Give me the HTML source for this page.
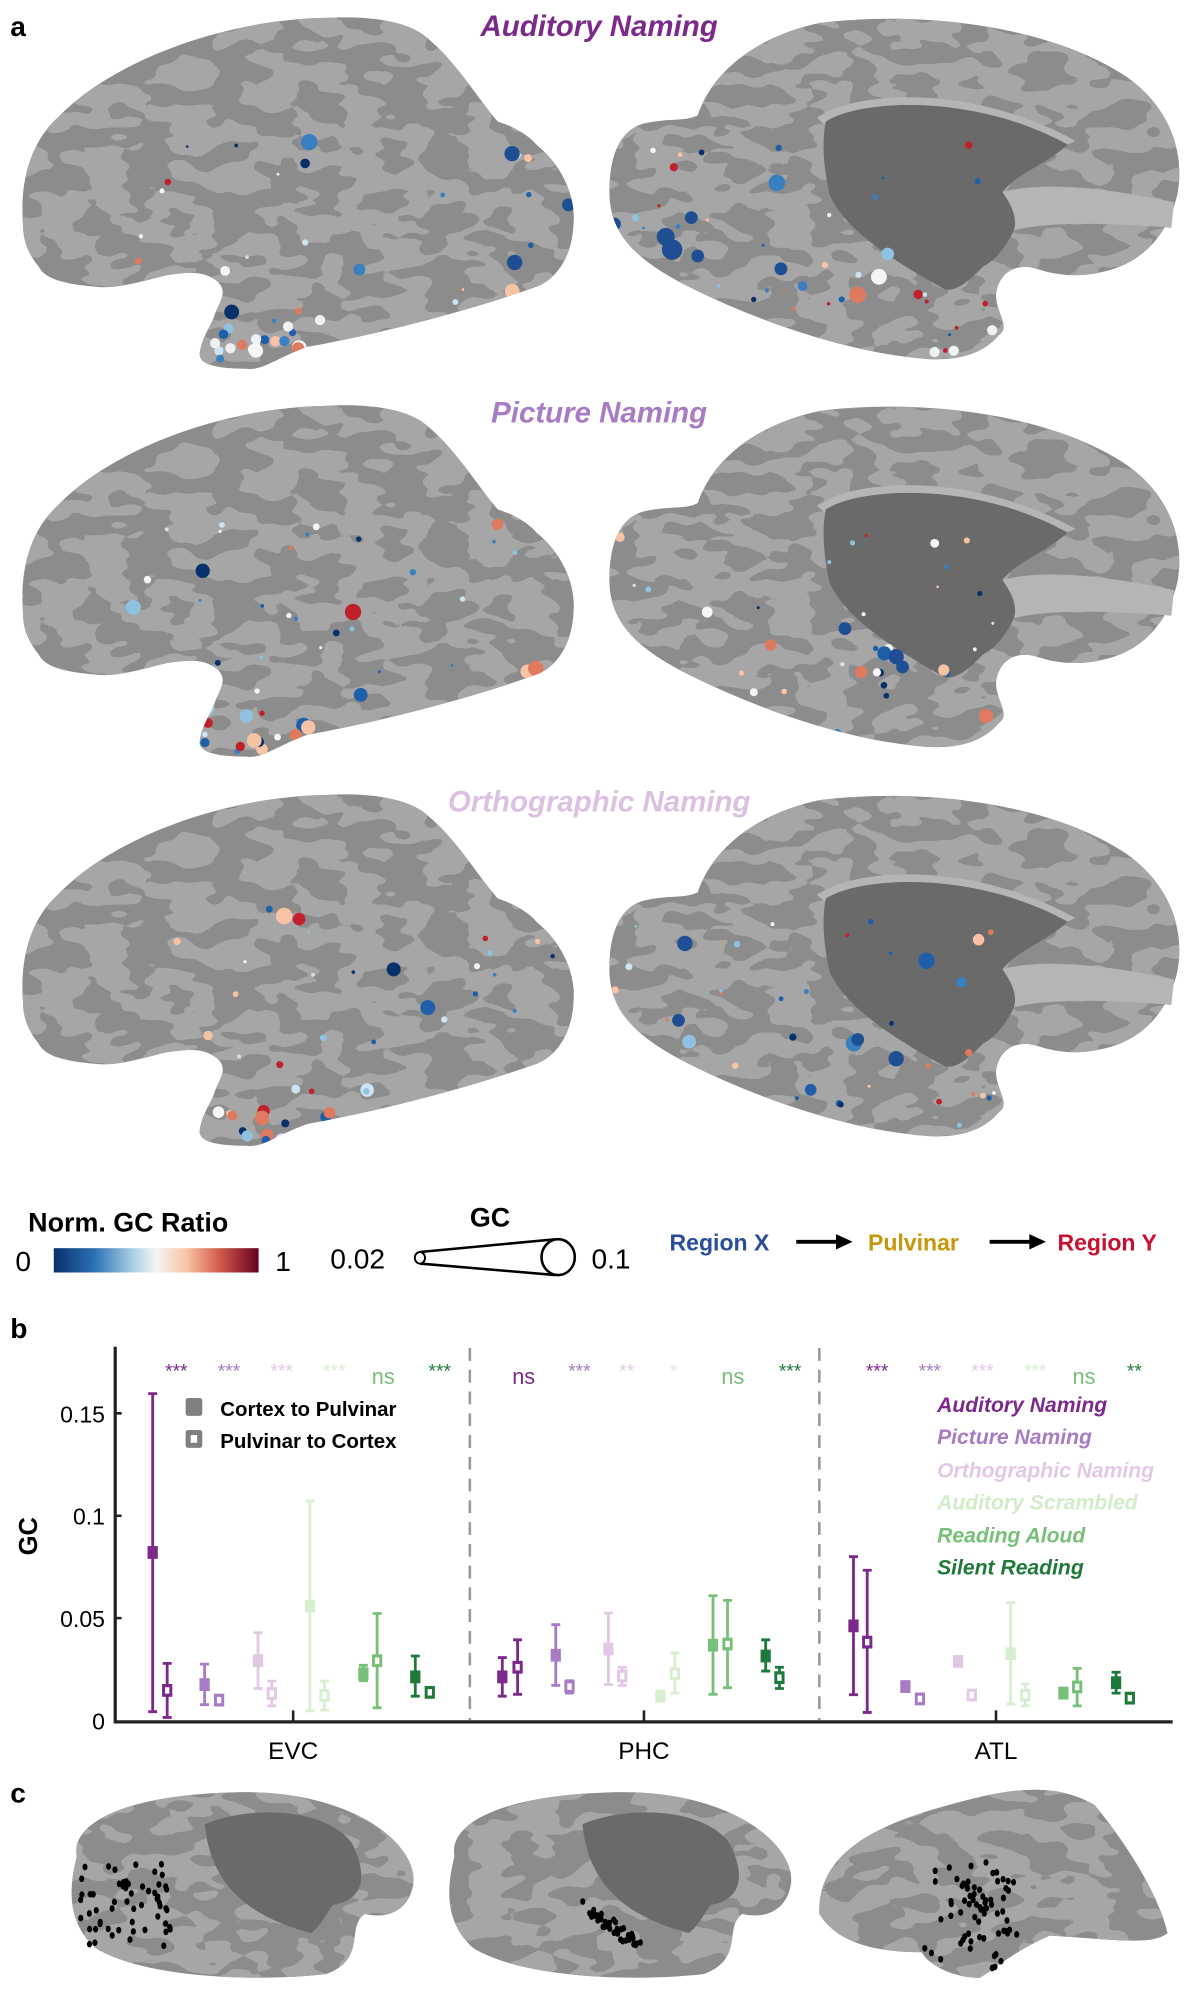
<!DOCTYPE html>
<html><head><meta charset="utf-8"><style>
html,body{margin:0;padding:0;background:#fff}
svg{display:block}
text{font-family:"Liberation Sans",sans-serif}
</style></head><body>
<svg id="s" width="1197" height="1999" viewBox="0 0 935 1561.5" preserveAspectRatio="none" xmlns="http://www.w3.org/2000/svg">
<defs>
<filter id="sulc" x="0" y="0" width="1" height="1" color-interpolation-filters="sRGB">
<feTurbulence type="fractalNoise" baseFrequency="0.03 0.06" numOctaves="2" seed="4" result="n"/>
<feColorMatrix in="n" type="matrix" values="0 0 0 0 0.65 0 0 0 0 0.65 0 0 0 0 0.65 1 0 0 0 0" result="c"/>
<feComponentTransfer in="c" result="d"><feFuncA type="discrete" tableValues="0 0 1 1"/></feComponentTransfer>
<feComposite in="d" in2="SourceGraphic" operator="in"/>
</filter>
<linearGradient id="cb" x1="0" x2="1">
<stop offset="0" stop-color="#08306b"/><stop offset="0.2" stop-color="#2c72b5"/><stop offset="0.38" stop-color="#a7cde3"/><stop offset="0.5" stop-color="#f5f5f5"/><stop offset="0.65" stop-color="#f9c4a4"/><stop offset="0.8" stop-color="#d6604d"/><stop offset="1" stop-color="#67001f"/>
</linearGradient>
<path id="lat" d="M18,176 C15,140 25,110 45,92 C90,45 180,15 254,14 C290,12 315,17 329,26 C355,45 375,80 389,95 C405,100 415,108 419,113 C440,130 450,155 448,175 C447,200 435,218 419,224 C360,245 290,262 240,271 C215,280 205,290 192,288 C170,288 155,285 156,276 C158,262 165,255 168,245 C172,235 178,228 170,220 C160,212 150,212 130,215 C110,220 90,226 75,224 C50,222 35,218 30,208 C22,198 18,188 18,176 Z"/>
<path id="med" d="M476,150 C476,120 485,100 505,96 C525,92 535,95 545,90 C555,60 585,30 640,18 C720,8 820,20 880,60 C915,85 925,120 920,150 C915,175 900,200 870,210 C845,218 825,215 810,210 C795,205 780,212 778,230 C778,245 790,255 780,262 C765,280 740,282 720,280 C660,275 590,250 540,225 C500,205 476,185 476,150 Z"/>
<path id="cav" d="M645,95 C670,78 760,72 834,113 C815,130 795,135 783,150 C790,160 795,170 792,180 C785,195 775,205 768,208 C755,222 745,228 738,226 C700,205 660,180 648,152 C643,130 642,110 645,95 Z"/>
<clipPath id="clipb"><use href="#lat"/><use href="#med"/></clipPath>
<g id="row">
<use href="#lat" fill="#8c8c8c"/><use href="#lat" fill="#000" filter="url(#sulc)"/>
<use href="#med" fill="#8c8c8c"/><use href="#med" fill="#000" filter="url(#sulc)"/>
<path d="M783,150 C820,140 880,150 917,158 L915,178 C880,175 820,172 792,180 Z" fill="#b5b5b5"/>
<path d="M638,92 C670,70 760,66 840,110 L834,113 C760,74 670,80 645,98 Z" fill="#b5b5b5"/>
<use href="#cav" fill="#6a6a6a"/>
</g>
</defs>
<text x="8" y="28" font-size="22" font-weight="bold">a</text>
<text x="468" y="28" font-size="23" font-weight="bold" font-style="italic" fill="#7b2a8b" text-anchor="middle">Auditory Naming</text>
<text x="468" y="330" font-size="23" font-weight="bold" font-style="italic" fill="#a87cc4" text-anchor="middle">Picture Naming</text>
<text x="468" y="634" font-size="23" font-weight="bold" font-style="italic" fill="#dcc0e2" text-anchor="middle">Orthographic Naming</text>
<use href="#row"/>
<use href="#row" transform="translate(0,303)"/>
<use href="#row" transform="translate(0,607)"/>
<g id="d0" clip-path="url(#clipb)"></g>
<g transform="translate(0,303)"><g id="d1" clip-path="url(#clipb)"></g></g>
<g transform="translate(0,607)"><g id="d2" clip-path="url(#clipb)"></g></g>
<!-- legend row -->
<text x="22" y="962" font-size="21" font-weight="bold">Norm. GC Ratio</text>
<text x="12" y="993" font-size="22">0</text>
<rect x="42" y="975" width="160" height="19" fill="url(#cb)"/>
<text x="215" y="993" font-size="22">1</text>
<text x="367" y="958" font-size="21" font-weight="bold">GC</text>
<text x="258" y="991" font-size="22">0.02</text>
<path d="M328,978 L434,968 M328,987 L434,996" stroke="#000" stroke-width="2" fill="none"/>
<ellipse cx="328" cy="982.5" rx="4" ry="4.5" fill="#fff" stroke="#000" stroke-width="1.5"/>
<ellipse cx="436" cy="982" rx="13" ry="14" fill="#fff" stroke="#000" stroke-width="2"/>
<text x="462" y="991" font-size="22">0.1</text>
<text x="523" y="977" font-size="18" font-weight="bold" fill="#2a4e98">Region X</text>
<path d="M622,970 H655" stroke="#000" stroke-width="3"/><path d="M653,964 L666,970 L653,976 Z"/>
<text x="678" y="977" font-size="18" font-weight="bold" fill="#c8960a">Pulvinar</text>
<path d="M773,970 H806" stroke="#000" stroke-width="3"/><path d="M804,964 L817,970 L804,976 Z"/>
<text x="826" y="977" font-size="18" font-weight="bold" fill="#c8102e">Region Y</text>
<!-- panel b -->
<text x="8" y="1045" font-size="22" font-weight="bold">b</text>
<path d="M90,1052 V1345 H916" stroke="#222" stroke-width="2.5" fill="none"/>
<g stroke="#222" stroke-width="2">
<path d="M90,1104 h5 M90,1184 h5 M90,1264 h5 M229,1344 v-8 M503,1344 v-8 M778,1344 v-8"/></g>
<g font-size="18" text-anchor="end">
<text x="82" y="1111">0.15</text><text x="82" y="1191">0.1</text><text x="82" y="1271">0.05</text><text x="82" y="1351">0</text></g>
<text transform="translate(29,1200) rotate(-90)" font-size="20" font-weight="bold" text-anchor="middle">GC</text>
<path d="M367,1053 V1344 M640,1053 V1344" stroke="#999" stroke-width="2" stroke-dasharray="10,7"/>
<g font-size="19" text-anchor="middle"><text x="229" y="1374">EVC</text><text x="503" y="1374">PHC</text><text x="778" y="1374">ATL</text></g>
<rect x="145" y="1092" width="13" height="14" rx="2" fill="#808080"/>
<rect x="145" y="1117" width="13" height="14" rx="2" fill="#808080"/><rect x="149" y="1121" width="5" height="6" fill="#fff"/>
<text x="172" y="1106" font-size="16" font-weight="bold">Cortex to Pulvinar</text>
<text x="172" y="1131" font-size="16" font-weight="bold">Pulvinar to Cortex</text>
<g font-size="16.5" font-weight="bold" font-style="italic">
<text x="732" y="1103" fill="#7b2a8b">Auditory Naming</text>
<text x="732" y="1128" fill="#a87cc4">Picture Naming</text>
<text x="732" y="1154" fill="#e2c8e4">Orthographic Naming</text>
<text x="732" y="1179" fill="#d2ebc8">Auditory Scrambled</text>
<text x="732" y="1205" fill="#78c07a">Reading Aloud</text>
<text x="732" y="1230" fill="#1f7a3a">Silent Reading</text></g>
<g id="bars"></g>
<!-- panel c -->
<text x="8" y="1408" font-size="22" font-weight="bold">c</text>
<g id="pc"></g>
</svg>
<script>
var NS="http://www.w3.org/2000/svg";
function el(p,t,a){var e=document.createElementNS(NS,t);for(var k in a)e.setAttribute(k,a[k]);p.appendChild(e);return e;}
var seed=7;function R(){seed=(seed*16807)%2147483647;return seed/2147483647;}
var cols=["#08306b","#1f5fa8","#3a7fc0","#8fc1e0","#cfe3f0","#f5f5f5","#f7c3a4","#e07a5f","#c0202a"];
for(var r=0;r<3;r++){var dots=document.getElementById('d'+r);
 for(var i=0;i<80;i++){var x,y;
  if(R()<0.45){x=100+R()*340;y=100+R()*180;}else{x=480+R()*300;y=110+R()*165;}
  var c=cols[Math.floor(R()*cols.length)],rad=R()<0.8?1+R()*2:3+R()*3.5;
  el(dots,'circle',{cx:x,cy:y,r:rad,fill:c});}
 for(var i=0;i<14;i++){el(dots,'circle',{cx:160+R()*120,cy:255+R()*30,r:2+R()*4,fill:cols[Math.floor(R()*cols.length)]});}
}
var dd=document.getElementById('d0');
[[400,120,6],[402,205,6],[444,160,5],[520,185,7],[525,195,8],[545,200,5],[540,170,5],[610,210,5],[480,175,5]].forEach(function(d){el(dd,'circle',{cx:d[0],cy:d[1],r:d[2],fill:'#1f4f92'});});
[[168,268,4],[180,272,4],[200,265,4],[225,255,4],[250,250,4],[730,275,4],[745,274,4],[775,258,4]].forEach(function(d){el(dd,'circle',{cx:d[0],cy:d[1],r:d[2],fill:'#eef2f5'});});
dd=document.getElementById('d1');
[[660,188,5],[700,210,6],[705,218,5]].forEach(function(d){el(dd,'circle',{cx:d[0],cy:d[1],r:d[2],fill:'#1f4f92'});});
dd=document.getElementById('d2');
[[535,130,6],[700,220,6],[670,205,5],[530,190,5]].forEach(function(d){el(dd,'circle',{cx:d[0],cy:d[1],r:d[2],fill:'#1f4f92'});});
// bars
var C=["#7b2a8b","#a87cc4","#e2c8e4","#d7efcf","#78c07a","#1f7a3a"];
function Y(zy){return 1344-(1393-zy)*80/265;}
function X(zx){return zx/1.677;}
var B=[[200,547,958,1370],[219,1245,1315,1385],[268,1247,1300,1352],[287,0,1340,0],[338,1166,1238,1310],[356,1291,1323,1355],[406,825,1097,1368],[425,1291,1328,1366],[476,1250,1272,1290],[494,1116,1238,1360],[544,1226,1280,1330],[563,0,1320,0],
[658,1230,1280,1330],[678,1184,1255,1325],[728,1145,1224,1302],[746,1290,1305,1322],[797,1115,1208,1300],[815,1255,1278,1302],[865,0,1330,0],[884,1218,1272,1322],[934,1070,1198,1325],[953,1082,1195,1308],[1003,1184,1226,1265],[1021,1255,1282,1310],
[1118,969,1148,1326],[1136,1004,1190,1372],[1186,0,1305,0],[1205,0,1337,0],[1255,0,1240,0],[1273,0,1327,0],[1324,1088,1220,1350],[1343,1298,1327,1355],[1393,0,1322,0],[1411,1258,1306,1355],[1462,1268,1295,1322],[1480,0,1335,0]];
var g=document.getElementById('bars');
B.forEach(function(b,i){var c=C[Math.floor((i%12)/2)],x=X(b[0]),open=i%2==1;
 if(b[1]){el(g,'path',{d:'M'+x+','+Y(b[1])+'V'+Y(b[3])+'M'+(x-3.5)+','+Y(b[1])+'h7M'+(x-3.5)+','+Y(b[3])+'h7',stroke:c,'stroke-width':2.2,fill:'none'});}
 var m=Y(b[2]);el(g,'rect',{x:x-4,y:m-5,width:8,height:10,fill:c});
 if(open)el(g,'rect',{x:x-1.7,y:m-2.5,width:3.4,height:5,fill:'#fff'});
});
var st=[["***",231],["***",300],["***",369],["***",438],["ns",502],["***",576],["ns",686],["***",759],["**",821],["*",882],["ns",960],["***",1035],["***",1149],["***",1218],["***",1287],["***",1356],["ns",1420],["**",1486]];
st.forEach(function(t,i){var c=C[i%6];var e=el(g,'text',{x:X(t[1]),y:t[0]=='ns'?1081:1076,'font-size':t[0]=='ns'?17:15,fill:c,'text-anchor':'middle'});e.textContent=t[0];});
// panel c
var pc=document.getElementById('pc');
function medc(ox,dp){
 var d="M"+(ox+5)+",1450 C"+(ox)+",1425 "+(ox+40)+",1402 "+(ox+130)+",1400 C"+(ox+220)+",1398 "+(ox+270)+",1440 "+(ox+268)+",1470 C"+(ox+266)+",1490 "+(ox+250)+",1500 "+(ox+230)+",1495 C"+(ox+215)+",1505 "+(ox+232)+",1530 "+(ox+200)+",1542 C"+(ox+150)+",1548 "+(ox+60)+",1546 "+(ox+20)+",1522 C"+(ox-5)+",1500 "+(ox)+",1470 "+(ox+5)+",1450 Z";
 el(pc,'path',{d:d,fill:'#8c8c8c'});el(pc,'path',{d:d,fill:'#000',filter:'url(#sulc)'});
 el(pc,'path',{d:"M"+(ox+105)+",1425 C"+(ox+140)+",1410 "+(ox+200)+",1412 "+(ox+220)+",1440 C"+(ox+235)+",1470 "+(ox+225)+",1485 "+(ox+205)+",1488 C"+(ox+200)+",1495 "+(ox+195)+",1505 "+(ox+188)+",1510 C"+(ox+150)+",1500 "+(ox+110)+",1480 "+(ox+105)+",1425 Z",fill:'#6a6a6a'});
 dp.forEach(function(p){el(pc,'ellipse',{cx:ox+p[0],cy:p[1],rx:2,ry:2.6,fill:'#000'});});
}
var d1=[],d2=[];seed=11;
for(var i=0;i<60;i++){d1.push([8+R()*70,1455+R()*65]);}
for(var i=0;i<40;i++){var t=R();d2.push([105+t*40+R()*8,1485+t*30+R()*10]);}
medc(55,d1);medc(350,d2);
var ld="M640,1495 C638,1440 700,1420 760,1405 C800,1395 830,1395 855,1410 C880,1440 905,1480 912,1510 C900,1520 870,1515 820,1512 C790,1525 775,1540 765,1545 C745,1545 725,1535 720,1525 C690,1525 655,1520 640,1495 Z";
el(pc,'path',{d:ld,fill:'#8c8c8c'});el(pc,'path',{d:ld,fill:'#000',filter:'url(#sulc)'});
for(var i=0;i<70;i++){el(pc,'ellipse',{cx:720+R()*60+R()*20,cy:1470+R()*70-(R()*20),rx:2,ry:2.6,fill:'#000'});}
</script>
</body></html>
